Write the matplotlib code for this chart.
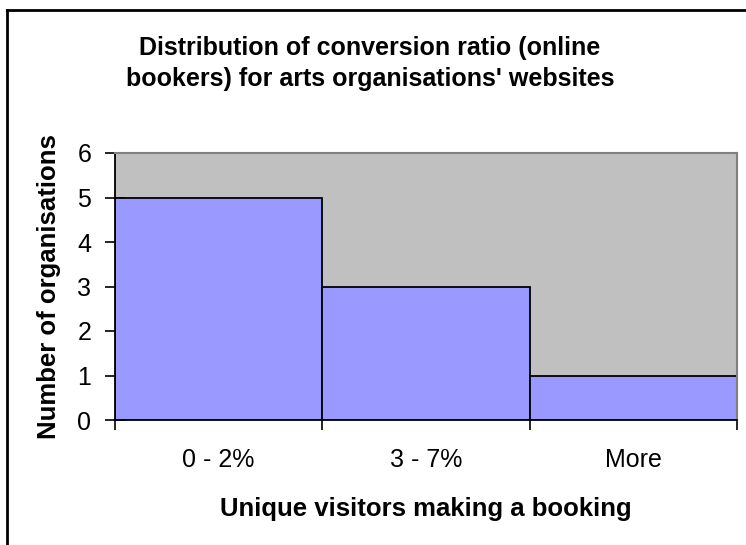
import matplotlib
matplotlib.use("Agg")
import matplotlib.pyplot as plt
from matplotlib.lines import Line2D

categories = ["0 - 2%", "3 - 7%", "More"]
counts = [5, 3, 1]
y_ticks = [0, 1, 2, 3, 4, 5, 6]

plt.rcParams["font.family"] = ["Liberation Sans", "DejaVu Sans"]

W, H = 746, 545
fig = plt.figure(figsize=(W / 100, H / 100), dpi=100)
fig.patch.set_facecolor("white")

# outer chart frame: only its left and top edges fall inside the canvas
fig.add_artist(Line2D([7 / W, 7 / W], [0, 1 - 10 / H], color="black",
                      linewidth=2, transform=fig.transFigure))
fig.add_artist(Line2D([7 / W, 1], [1 - 10 / H, 1 - 10 / H], color="black",
                      linewidth=2, transform=fig.transFigure))

ax = fig.add_axes([115 / W, 1 - 420 / H, (737 - 115) / W, (420 - 153) / H])
ax.set_facecolor("#C0C0C0")

x = list(range(len(categories)))
ax.bar(x, counts, width=1.0, align="edge", color="#9999FF",
       edgecolor="black", linewidth=1.3, zorder=2)

ax.set_xlim(0, len(categories))
ax.set_ylim(0, 6)

ax.set_yticks(y_ticks)
ax.tick_params(axis="y", direction="inout", length=14, width=1.2,
               labelsize=18, pad=10)
for lbl in ax.get_yticklabels():
    lbl.set_va("center_baseline")

ax.set_xticks(range(len(categories) + 1))
ax.set_xticklabels([])
ax.tick_params(axis="x", which="major", direction="out", length=7, width=1.2)
ax.set_xticks([i + 0.5 for i in x], minor=True)
ax.set_xticklabels(categories, minor=True)
ax.tick_params(axis="x", which="minor", length=0, labelsize=18, pad=20)

for s in ("top", "right"):
    ax.spines[s].set_color("#808080")
    ax.spines[s].set_linewidth(1.5)
for s in ("left", "bottom"):
    ax.spines[s].set_color("black")
    ax.spines[s].set_linewidth(1.3)

ax.set_ylabel("Number of organisations", fontsize=18.5, fontweight="bold")
ax.yaxis.set_label_coords(-66 / (737 - 115), 0.5)
ax.yaxis.label.set_va("center")
ax.set_xlabel("Unique visitors making a booking", fontsize=18.5,
              fontweight="bold")
ax.xaxis.set_label_coords(0.5, -(509 - 420) / (420 - 153))
ax.xaxis.label.set_va("center")

fig.text(370 / W, 1 - 48 / H, "Distribution of conversion ratio (online",
         ha="center", va="center", fontsize=18, fontweight="bold")
fig.text(370 / W, 1 - 79 / H, "bookers) for arts organisations' websites",
         ha="center", va="center", fontsize=18, fontweight="bold")

fig.savefig("out.png", dpi=100)
